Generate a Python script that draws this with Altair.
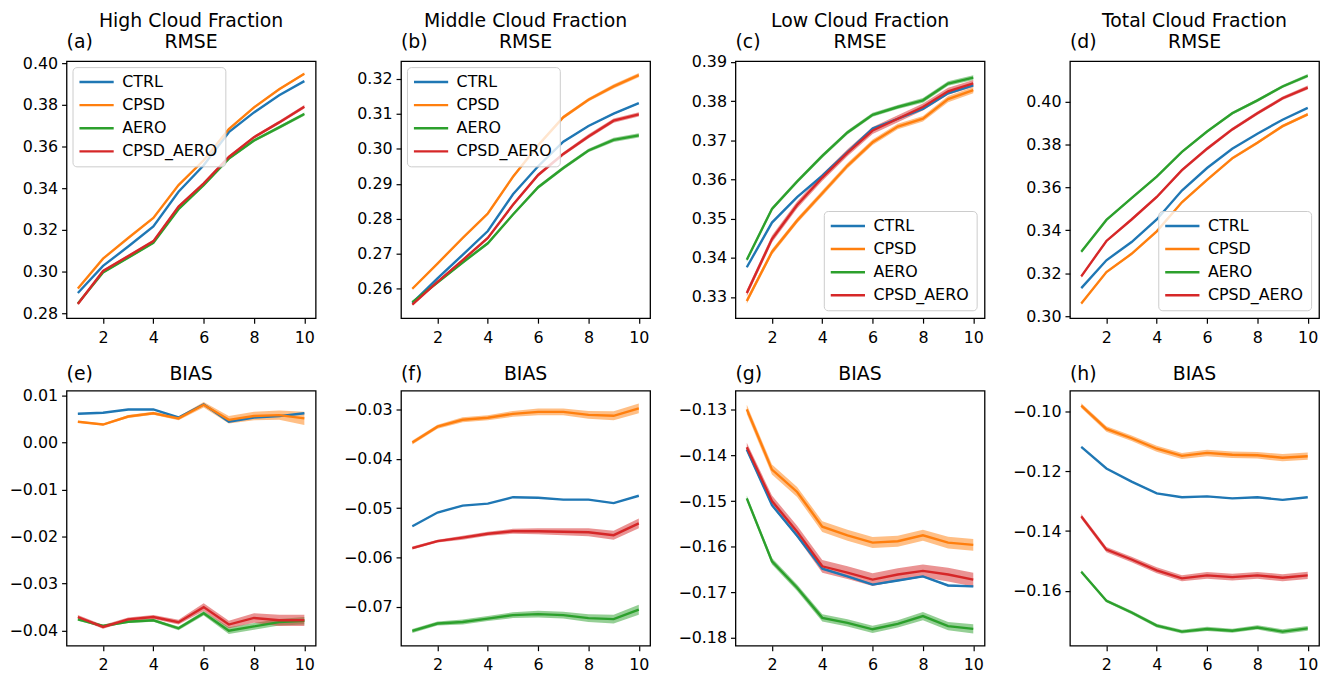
import altair as alt
import pandas as pd

EXPS = ["CTRL", "CPSD", "AERO", "CPSD_AERO"]
COLORS = ["#1f77b4", "#ff7f0e", "#2ca02c", "#d62728"]
LEADS = [1, 2, 3, 4, 5, 6, 7, 8, 9, 10]
FONT = "DejaVu Sans"

HIGH_RMSE = {
    "CTRL":      [0.2897, 0.3027, 0.3120, 0.3217, 0.3383, 0.3510, 0.3669, 0.3764, 0.3846, 0.3914],
    "CPSD":      [0.2919, 0.3062, 0.3161, 0.3257, 0.3415, 0.3534, 0.3684, 0.3788, 0.3875, 0.3949],
    "AERO":      [0.2846, 0.2995, 0.3066, 0.3138, 0.3299, 0.3415, 0.3542, 0.3629, 0.3692, 0.3756],
    "CPSD_AERO": [0.2844, 0.3003, 0.3074, 0.3146, 0.3312, 0.3423, 0.3550, 0.3645, 0.3716, 0.3791],
}
HIGH_RMSE_CI = {
    "CTRL":      [0.0002] * 10,
    "CPSD":      [0.0004, 0.0004, 0.0004, 0.0005, 0.0005, 0.0005, 0.0005, 0.0006, 0.0006, 0.0006],
    "AERO":      [0.0004, 0.0005, 0.0005, 0.0005, 0.0006, 0.0006, 0.0007, 0.0007, 0.0008, 0.0008],
    "CPSD_AERO": [0.0004, 0.0005, 0.0005, 0.0005, 0.0006, 0.0006, 0.0007, 0.0007, 0.0008, 0.0008],
}
MID_RMSE = {
    "CTRL":      [0.2560, 0.2630, 0.2697, 0.2765, 0.2870, 0.2950, 0.3020, 0.3065, 0.3100, 0.3130],
    "CPSD":      [0.2600, 0.2672, 0.2745, 0.2815, 0.2920, 0.3010, 0.3090, 0.3140, 0.3178, 0.3210],
    "AERO":      [0.2562, 0.2618, 0.2675, 0.2730, 0.2812, 0.2890, 0.2945, 0.2995, 0.3025, 0.3038],
    "CPSD_AERO": [0.2555, 0.2620, 0.2682, 0.2745, 0.2840, 0.2925, 0.2985, 0.3035, 0.3080, 0.3098],
}
MID_RMSE_CI = {
    "CTRL":      [0.0002] * 10,
    "CPSD":      [0.0003, 0.0003, 0.0004, 0.0004, 0.0004, 0.0005, 0.0005, 0.0005, 0.0006, 0.0006],
    "AERO":      [0.0003, 0.0003, 0.0004, 0.0004, 0.0004, 0.0005, 0.0005, 0.0005, 0.0006, 0.0006],
    "CPSD_AERO": [0.0003, 0.0003, 0.0004, 0.0004, 0.0005, 0.0005, 0.0005, 0.0006, 0.0006, 0.0006],
}
LOW_RMSE = {
    "CTRL":      [0.3376, 0.3490, 0.3555, 0.3610, 0.3670, 0.3730, 0.3755, 0.3780, 0.3820, 0.3840],
    "CPSD":      [0.3290, 0.3415, 0.3495, 0.3565, 0.3635, 0.3695, 0.3735, 0.3755, 0.3805, 0.3828],
    "AERO":      [0.3395, 0.3525, 0.3595, 0.3660, 0.3720, 0.3765, 0.3785, 0.3802, 0.3845, 0.3860],
    "CPSD_AERO": [0.3310, 0.3448, 0.3535, 0.3605, 0.3668, 0.3725, 0.3755, 0.3785, 0.3825, 0.3845],
}
LOW_RMSE_CI = {
    "CTRL":      [0.0002] * 10,
    "CPSD":      [0.0007, 0.0007, 0.0007, 0.0007, 0.0007, 0.0007, 0.0007, 0.0007, 0.0008, 0.0008],
    "AERO":      [0.0005, 0.0005, 0.0005, 0.0005, 0.0005, 0.0005, 0.0005, 0.0006, 0.0006, 0.0006],
    "CPSD_AERO": [0.0008, 0.0009, 0.0009, 0.0009, 0.0009, 0.0009, 0.0009, 0.0009, 0.0009, 0.0009],
}
TOTAL_RMSE = {
    "CTRL":      [0.3130, 0.3260, 0.3345, 0.3450, 0.3585, 0.3690, 0.3780, 0.3850, 0.3915, 0.3970],
    "CPSD":      [0.3058, 0.3205, 0.3290, 0.3395, 0.3530, 0.3635, 0.3735, 0.3808, 0.3885, 0.3940],
    "AERO":      [0.3300, 0.3448, 0.3550, 0.3650, 0.3765, 0.3860, 0.3945, 0.4005, 0.4070, 0.4120],
    "CPSD_AERO": [0.3185, 0.3350, 0.3450, 0.3555, 0.3680, 0.3780, 0.3870, 0.3945, 0.4015, 0.4065],
}
TOTAL_RMSE_CI = {
    "CTRL":      [0.0002] * 10,
    "CPSD":      [0.0005, 0.0005, 0.0006, 0.0006, 0.0006, 0.0006, 0.0007, 0.0007, 0.0007, 0.0007],
    "AERO":      [0.0005, 0.0005, 0.0006, 0.0006, 0.0006, 0.0006, 0.0007, 0.0007, 0.0007, 0.0008],
    "CPSD_AERO": [0.0006, 0.0006, 0.0007, 0.0007, 0.0007, 0.0008, 0.0008, 0.0008, 0.0008, 0.0009],
}
HIGH_BIAS = {
    "CTRL":      [0.0061, 0.0063, 0.0070, 0.0070, 0.0053, 0.0081, 0.0044, 0.0053, 0.0056, 0.0062],
    "CPSD":      [0.0044, 0.0038, 0.0055, 0.0062, 0.0051, 0.0080, 0.0048, 0.0056, 0.0058, 0.0051],
    "AERO":      [-0.0376, -0.0390, -0.0381, -0.0378, -0.0395, -0.0363, -0.0400, -0.0391, -0.0382, -0.0379],
    "CPSD_AERO": [-0.0371, -0.0392, -0.0376, -0.0371, -0.0382, -0.0350, -0.0387, -0.0373, -0.0378, -0.0378],
}
HIGH_BIAS_CI = {
    "CTRL":      [0.0001] * 10,
    "CPSD":      [0.0002, 0.0002, 0.0003, 0.0003, 0.0004, 0.0006, 0.0008, 0.0009, 0.0010, 0.0014],
    "AERO":      [0.0003, 0.0003, 0.0003, 0.0003, 0.0004, 0.0005, 0.0007, 0.0007, 0.0007, 0.0008],
    "CPSD_AERO": [0.0004, 0.0004, 0.0004, 0.0004, 0.0005, 0.0008, 0.0008, 0.0010, 0.0012, 0.0012],
}
MID_BIAS = {
    "CTRL":      [-0.0537, -0.0509, -0.0495, -0.0491, -0.0478, -0.0479, -0.0483, -0.0483, -0.0490, -0.0475],
    "CPSD":      [-0.0367, -0.0335, -0.0321, -0.0317, -0.0309, -0.0305, -0.0305, -0.0311, -0.0313, -0.0298],
    "AERO":      [-0.0749, -0.0734, -0.0731, -0.0724, -0.0717, -0.0715, -0.0717, -0.0723, -0.0725, -0.0706],
    "CPSD_AERO": [-0.0581, -0.0567, -0.0560, -0.0552, -0.0547, -0.0547, -0.0548, -0.0549, -0.0555, -0.0531],
}
MID_BIAS_CI = {
    "CTRL":      [0.0001] * 10,
    "CPSD":      [0.0004, 0.0004, 0.0005, 0.0005, 0.0006, 0.0007, 0.0007, 0.0008, 0.0009, 0.0010],
    "AERO":      [0.0004, 0.0004, 0.0005, 0.0005, 0.0006, 0.0007, 0.0007, 0.0008, 0.0009, 0.0010],
    "CPSD_AERO": [0.0003, 0.0003, 0.0004, 0.0004, 0.0005, 0.0006, 0.0007, 0.0008, 0.0009, 0.0010],
}
LOW_BIAS = {
    "CTRL":      [-0.1387, -0.1509, -0.1576, -0.1648, -0.1665, -0.1683, -0.1674, -0.1665, -0.1685, -0.1687],
    "CPSD":      [-0.1299, -0.1431, -0.1480, -0.1556, -0.1575, -0.1591, -0.1588, -0.1575, -0.1591, -0.1596],
    "AERO":      [-0.1494, -0.1632, -0.1690, -0.1756, -0.1767, -0.1781, -0.1769, -0.1752, -0.1774, -0.1780],
    "CPSD_AERO": [-0.1382, -0.1500, -0.1567, -0.1643, -0.1657, -0.1672, -0.1661, -0.1653, -0.1661, -0.1672],
}
LOW_BIAS_CI = {
    "CTRL":      [0.0002] * 10,
    "CPSD":      [0.0010, 0.0011, 0.0011, 0.0012, 0.0012, 0.0012, 0.0012, 0.0012, 0.0013, 0.0013],
    "AERO":      [0.0006, 0.0007, 0.0007, 0.0008, 0.0008, 0.0008, 0.0008, 0.0009, 0.0009, 0.0010],
    "CPSD_AERO": [0.0010, 0.0012, 0.0013, 0.0014, 0.0014, 0.0014, 0.0014, 0.0014, 0.0015, 0.0015],
}
TOTAL_BIAS = {
    "CTRL":      [-0.1119, -0.1191, -0.1235, -0.1274, -0.1287, -0.1284, -0.1291, -0.1287, -0.1296, -0.1287],
    "CPSD":      [-0.0981, -0.1059, -0.1090, -0.1125, -0.1149, -0.1139, -0.1145, -0.1147, -0.1155, -0.1150],
    "AERO":      [-0.1536, -0.1633, -0.1672, -0.1716, -0.1736, -0.1727, -0.1733, -0.1722, -0.1736, -0.1725],
    "CPSD_AERO": [-0.1351, -0.1462, -0.1495, -0.1531, -0.1558, -0.1548, -0.1554, -0.1548, -0.1556, -0.1548],
}
TOTAL_BIAS_CI = {
    "CTRL":      [0.0002] * 10,
    "CPSD":      [0.0008, 0.0009, 0.0009, 0.0010, 0.0010, 0.0011, 0.0011, 0.0011, 0.0012, 0.0012],
    "AERO":      [0.0005, 0.0005, 0.0006, 0.0006, 0.0006, 0.0007, 0.0007, 0.0007, 0.0008, 0.0008],
    "CPSD_AERO": [0.0008, 0.0009, 0.0009, 0.0010, 0.0010, 0.0011, 0.0011, 0.0011, 0.0012, 0.0012],
}

PANEL_LETTERS = ["(a)", "(b)", "(c)", "(d)", "(e)", "(f)", "(g)", "(h)"]
PANEL_TITLES = [
    ["High Cloud Fraction", "RMSE"], ["Middle Cloud Fraction", "RMSE"],
    ["Low Cloud Fraction", "RMSE"], ["Total Cloud Fraction", "RMSE"],
    ["BIAS"], ["BIAS"], ["BIAS"], ["BIAS"],
]
Y_DOMAINS = [
    [0.2776, 0.4010], [0.2516, 0.3250], [0.3246, 0.3902], [0.2990, 0.4188],
    [-0.0432, 0.0110], [-0.0779, -0.0262], [-0.1817, -0.1258], [-0.1783, -0.0931],
]
Y_TICKS = [
    [0.28, 0.30, 0.32, 0.34, 0.36, 0.38, 0.40],
    [0.26, 0.27, 0.28, 0.29, 0.30, 0.31, 0.32],
    [0.33, 0.34, 0.35, 0.36, 0.37, 0.38, 0.39],
    [0.30, 0.32, 0.34, 0.36, 0.38, 0.40],
    [0.01, 0.00, -0.01, -0.02, -0.03, -0.04],
    [-0.03, -0.04, -0.05, -0.06, -0.07],
    [-0.13, -0.14, -0.15, -0.16, -0.17, -0.18],
    [-0.10, -0.12, -0.14, -0.16],
]
X_TICKS = [2, 4, 6, 8, 10]
LEGEND_POS = ["top-left", "top-left", "bottom-right", "bottom-right", None, None, None, None]
MEANS = [HIGH_RMSE, MID_RMSE, LOW_RMSE, TOTAL_RMSE, HIGH_BIAS, MID_BIAS, LOW_BIAS, TOTAL_BIAS]
CIS = [HIGH_RMSE_CI, MID_RMSE_CI, LOW_RMSE_CI, TOTAL_RMSE_CI,
       HIGH_BIAS_CI, MID_BIAS_CI, LOW_BIAS_CI, TOTAL_BIAS_CI]

W = 251
H_TOP = 259
H_BOT = 257


def long_df(mean, ci):
    rows = []
    for e in EXPS:
        for i, lead in enumerate(LEADS):
            m = mean[e][i]
            c = ci[e][i]
            rows.append({"exp": e, "lead": lead, "mean": m, "lo": m - c, "hi": m + c})
    return pd.DataFrame(rows)


def text_layer(txt, x, y, align):
    return alt.Chart(pd.DataFrame({"t": [txt]})).mark_text(
        align=align, baseline="alphabetic", fontSize=19, font=FONT, color="black"
    ).encode(text="t:N", x=alt.value(x), y=alt.value(y))


def make_legend(pos):
    return alt.Legend(
        orient=pos, offset=6 if pos == "top-left" else 8, title=None,
        symbolType="stroke", symbolSize=1296, symbolStrokeWidth=2.5, symbolOffset=-3,
        clipHeight=16, labelFontSize=16, labelFont=FONT, labelColor="black",
        labelOffset=7, rowPadding=7.3, padding=7, labelLimit=250,
        fillColor="rgba(255,255,255,0.8)", strokeColor="#cccccc", cornerRadius=4,
    )


def panel(idx):
    df = long_df(MEANS[idx], CIS[idx])
    height = H_TOP if idx < 4 else H_BOT
    xenc = alt.X("lead:Q", title=None,
                 scale=alt.Scale(domain=[0.55, 10.45], nice=False, zero=False),
                 axis=alt.Axis(values=X_TICKS, format="d"))
    yscale = alt.Scale(domain=Y_DOMAINS[idx], nice=False, zero=False)
    yaxis = alt.Axis(values=Y_TICKS[idx], format=".2f")
    cscale = alt.Scale(domain=EXPS, range=COLORS)

    base = alt.Chart(df)
    layers = []
    # confidence bands: one layer per experiment (constant colour, no legend)
    for e, c in zip(EXPS, COLORS):
        layers.append(
            base.transform_filter(alt.datum.exp == e).mark_area(opacity=0.5, color=c).encode(
                x=xenc,
                y=alt.Y("lo:Q", title=None, scale=yscale, axis=yaxis),
                y2="hi:Q",
            )
        )
    pos = LEGEND_POS[idx]
    leg = make_legend(pos) if pos is not None else None
    layers.append(
        base.mark_line(strokeWidth=2.4).encode(
            x=xenc,
            y=alt.Y("mean:Q", title=None, scale=yscale, axis=yaxis),
            color=alt.Color("exp:N", scale=cscale, legend=leg),
        )
    )
    titles = PANEL_TITLES[idx]
    if len(titles) == 2:
        layers.append(text_layer(titles[0], W / 2, -34.5, "center"))
        layers.append(text_layer(titles[1], W / 2, -13, "center"))
        layers.append(text_layer(PANEL_LETTERS[idx], 0, -13, "left"))
    else:
        layers.append(text_layer(titles[0], W / 2, -11, "center"))
        layers.append(text_layer(PANEL_LETTERS[idx], 0, -11, "left"))
    return alt.layer(*layers).properties(width=W, height=height)


top = alt.hconcat(*[panel(i) for i in range(4)], spacing=26).resolve_scale(
    color="independent", x="independent", y="independent"
).resolve_legend(color="independent")
bottom = alt.hconcat(*[panel(i) for i in range(4, 8)], spacing=26).resolve_scale(
    color="independent", x="independent", y="independent")

chart = alt.vconcat(top, bottom, spacing=18).resolve_scale(
    color="independent", x="independent", y="independent"
).resolve_legend(color="independent").properties(
    padding={"left": 0, "top": 0, "right": 5, "bottom": 5},
    background="white",
).configure_view(
    stroke="black", strokeWidth=1.3
).configure_axis(
    domain=False, grid=False, tickColor="black", tickSize=5, tickWidth=1.2,
    labelFontSize=16, labelFont=FONT, labelColor="black", labelPadding=4,
).configure_axisY(
    minExtent=58, maxExtent=58
).configure_axisX(
    minExtent=27, maxExtent=27, labelPadding=6
)

chart.save("out.html", embed_options={"renderer": "svg", "actions": False})
